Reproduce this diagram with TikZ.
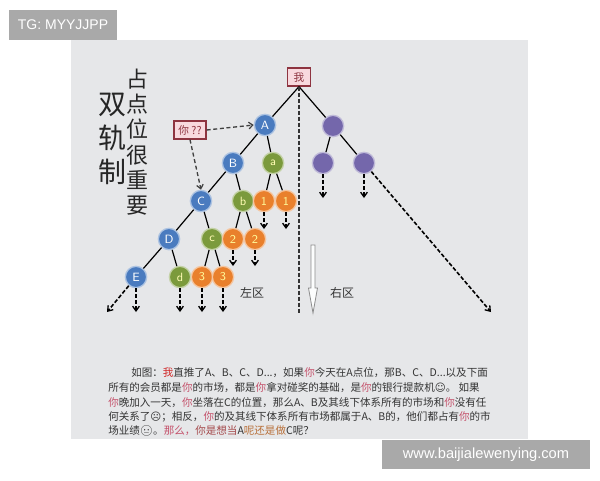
\documentclass[tikz,border=0pt]{standalone}
\usepackage{fontspec}
\setmainfont{Liberation Sans}
\newfontfamily\cjk{Noto Sans CJK SC}
\newfontfamily\dejavu{DejaVu Sans}
\newfontfamily\emo{Noto Emoji}
\usetikzlibrary{arrows.meta}
\definecolor{panel}{HTML}{E6E7E9}
\definecolor{wm}{HTML}{A9A9A9}
\definecolor{nblue}{HTML}{4A7BBF}
\definecolor{ngreen}{HTML}{7B9A3C}
\definecolor{norange}{HTML}{E9802C}
\definecolor{npurple}{HTML}{7467AB}
\definecolor{boxfill}{HTML}{F8D9DE}
\definecolor{boxline}{HTML}{8E3440}
\definecolor{txt}{HTML}{333333}
\definecolor{youred}{HTML}{C4506A}
\definecolor{mered}{HTML}{D02828}
\definecolor{brownred}{HTML}{A4484A}
\definecolor{brownor}{HTML}{B8703A}
\newcommand\youc{\textcolor{youred}{你}}
\tikzset{
  mem/.style={circle,minimum size=16pt,inner sep=0pt,font=\sffamily\fontsize{9}{9}\selectfont,draw=#1!45!white,line width=1pt,fill=#1},
  bluen/.style={mem=nblue,text=white},
  greenn/.style={mem=ngreen,text=yellow!30!white},
  orangen/.style={mem=norange,text=yellow!40!white},
  purplen/.style={mem=npurple},
  pinkbox/.style={draw=boxline,fill=boxfill,line width=0.9pt,inner sep=1.5pt,minimum height=13.5pt,font=\cjk\fontsize{8}{8}\selectfont,text=boxline},
  link/.style={line width=0.9pt,black},
  darr/.style={line width=1.2pt,black,dash pattern=on 3pt off 1.5pt,-{Straight Barb[length=3.5pt,width=5pt,line width=1pt]}},
  para/.style={anchor=west,inner sep=0pt,font=\cjk\fontsize{7.9}{7.9}\selectfont,text=txt},
}
\begin{document}
\begin{tikzpicture}[x=0.75pt,y=-0.75pt]
\useasboundingbox (0,0) rectangle (600,480);
\fill[white] (0,0) rectangle (600,480);
\fill[panel] (71,40) rectangle (528,439);
% watermarks
\fill[wm] (9,10) rectangle (117,40);
\node[text=white,font=\fontsize{10.5}{10.5}\selectfont] (wm1) at (63,25) {TG: MYYJJPP};
% titles
\node[font=\cjk\fontsize{21}{25.5}\selectfont,align=center,text=black!85,inner sep=0pt] (t1) at (112,139) {双\\轨\\制};
\node[font=\cjk\fontsize{16.5}{19}\selectfont,align=center,text=black!85,inner sep=0pt] (t2) at (137,142) {占\\点\\位\\很\\重\\要};
% boxes
\node[pinkbox,minimum width=17pt] (me) at (299,77) {我};
\node[pinkbox,minimum width=24pt] (you) at (190,130) {你 ??};
% nodes
\node[bluen] (A) at (265,125) {A};
\node[bluen] (B) at (233,163) {B};
\node[bluen] (C) at (201,201) {C};
\node[bluen] (D) at (169,239) {D};
\node[bluen] (E) at (136,277) {E};
\node[greenn] (a) at (273,163) {a};
\node[greenn] (b) at (243,201) {b};
\node[greenn] (c) at (212,239) {c};
\node[greenn] (d) at (180,277) {d};
\node[orangen] (a1) at (264,201) {1};
\node[orangen] (a2) at (286,201) {1};
\node[orangen] (b1) at (233,239) {2};
\node[orangen] (b2) at (255,239) {2};
\node[orangen] (c1) at (202,277) {3};
\node[orangen] (c2) at (223,277) {3};
\node[purplen] (P0) at (333,126) {};
\node[purplen] (P1) at (323,163) {};
\node[purplen] (P2) at (364,163) {};
% solid links
\draw[link] (me.south) -- (A);
\draw[link] (me.south) -- (P0);
\draw[link] (A) -- (B);
\draw[link] (A) -- (a);
\draw[link] (B) -- (C);
\draw[link] (B) -- (b);
\draw[link] (C) -- (D);
\draw[link] (C) -- (c);
\draw[link] (D) -- (E);
\draw[link] (D) -- (d);
\draw[link] (a) -- (a1);
\draw[link] (a) -- (a2);
\draw[link] (b) -- (b1);
\draw[link] (b) -- (b2);
\draw[link] (c) -- (c1);
\draw[link] (c) -- (c2);
\draw[link] (P0) -- (P1);
\draw[link] (P0) -- (P2);
% free ends
\coordinate (eE1) at (107,312);
\coordinate (eE2) at (136,312);
\coordinate (ed) at (180,312);
\coordinate (ec1) at (202,312);
\coordinate (ec2) at (223,312);
\coordinate (eb1) at (233,266);
\coordinate (eb2) at (255,266);
\coordinate (ea1) at (264,229);
\coordinate (ea2) at (286,229);
\coordinate (eP1) at (323,198);
\coordinate (eP2) at (364,198);
\coordinate (eP3) at (491,312);
\coordinate (vend) at (299,313);
% dashed arrows
\draw[darr] (E) -- (eE1);
\draw[darr] (E) -- (eE2);
\draw[darr] (d) -- (ed);
\draw[darr] (c1) -- (ec1);
\draw[darr] (c2) -- (ec2);
\draw[darr] (b1) -- (eb1);
\draw[darr] (b2) -- (eb2);
\draw[darr] (a1) -- (ea1);
\draw[darr] (a2) -- (ea2);
\draw[darr] (P1) -- (eP1);
\draw[darr] (P2) -- (eP2);
\draw[darr] (P2) -- (eP3);
\draw[line width=1.1pt,black!80,dash pattern=on 3pt off 1.5pt] (me.south) -- (vend);
\draw[line width=1pt,black!75,dash pattern=on 3pt off 2pt,-{Straight Barb[length=3pt,width=5pt,line width=0.9pt]}] (you.east) -- (A.west);
\draw[line width=1pt,black!75,dash pattern=on 3pt off 2pt,-{Straight Barb[length=3pt,width=5pt,line width=0.9pt]}] (you.south) -- (C.north);
% hollow arrow
\draw[black!45,fill=white!90!panel,line width=0.6pt] (311,245) -- (315,245) -- (315,288) -- (317.5,288) -- (313,313) -- (308.5,288) -- (311,288) -- cycle;
% zone labels
\node[font=\cjk\fontsize{9}{9}\selectfont,text=txt] (left) at (252,293) {左区};
\node[font=\cjk\fontsize{9}{9}\selectfont,text=txt] (right) at (342,293) {右区};
% paragraph
\node[para] (p1) at (131,373) {如图：\textcolor{mered}{我}直推了A、B、C、D...，如果\youc 今天在A点位，那B、C、D...以及下面};
\node[para] (p2) at (108,388) {所有的会员都是\youc 的市场，都是\youc 拿对碰奖的基础，是\youc 的银行提款机{\dejavu ☺}。 如果};
\node[para] (p3) at (108,403) {\youc 晚加入一天，\youc 坐落在C的位置，那么A、B及其线下体系所有的市场和\youc 没有任};
\node[para] (p4) at (108,417) {何关系了{\dejavu ☹}；相反，\youc 的及其线下体系所有市场都属于A、B的，他们都占有\youc 的市};
\node[para] (p5) at (108,431) {场业绩{\emo 😐}。\textcolor{youred}{那么，}\textcolor{brownred}{你是想当}A\textcolor{brownor}{呢还是做}C呢？};
% bottom watermark
\fill[wm] (382,440) rectangle (590,469);
\node[text=white,font=\fontsize{11}{11}\selectfont] (wm2) at (486,455) {www.baijialewenying.com};
\end{tikzpicture}
\end{document}
